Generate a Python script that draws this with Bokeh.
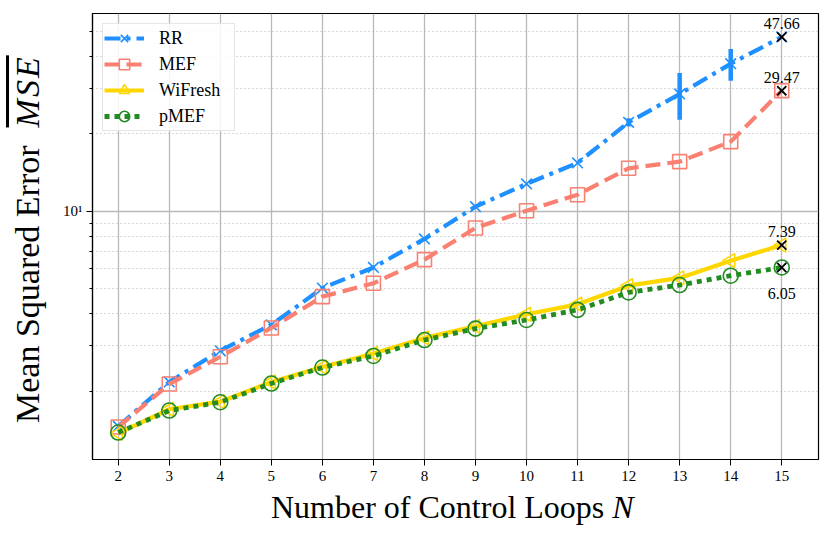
import math
from bokeh.plotting import figure
from bokeh.models import (Range1d, FixedTicker, CustomJSTickFormatter, Legend,
                          LegendItem, Div)
from bokeh.layouts import column, row
from bokeh.core.properties import value
from bokeh.embed import file_html
from bokeh.resources import INLINE

# ---------------- data ----------------
N = [2, 3, 4, 5, 6, 7, 8, 9, 10, 11, 12, 13, 14, 15]
RR = [1.46, 2.17, 2.87, 3.62, 5.03, 6.05, 7.81, 10.43, 12.79, 15.43, 22.2, 28.6, 37.5, 47.66]
RR_ERR = [0, 0, 0, 0, 0, 0, 0, 0, 0, 0, 0.8, 5.9, 5.3, 0]
MEF = [1.45, 2.13, 2.72, 3.52, 4.66, 5.25, 6.49, 8.62, 10.06, 11.61, 14.70, 15.61, 18.67, 29.47]
WIFRESH = [1.37, 1.70, 1.82, 2.17, 2.48, 2.80, 3.22, 3.57, 3.98, 4.35, 5.14, 5.51, 6.43, 7.39]
PMEF = [1.38, 1.68, 1.81, 2.14, 2.47, 2.74, 3.16, 3.50, 3.78, 4.14, 4.84, 5.17, 5.62, 6.05]
SERIES = ["RR", "MEF", "WiFresh", "pMEF"]
Y_MAJOR = [10]
Y_MINOR = [2, 3, 4, 5, 6, 7, 8, 9, 20, 30, 40, 50]
X_TITLE = "Number of Control Loops"
X_TITLE_VAR = "N"
Y_TITLE = "Mean Squared Error"
Y_TITLE_VAR = "MSE"

C_RR = "#1E90FF"
C_MEF = "#FA8072"
C_WF = "#FFD700"
C_PM = "#228B22"
SERIF = "Liberation Serif"

YDIV_W = 60
P_W, P_H = 831 - YDIV_W, 489

p = figure(width=P_W, height=P_H, output_backend="svg", toolbar_location=None,
           y_axis_type="log",
           x_range=Range1d(1.496, 15.72), y_range=Range1d(1.084, 58.8),
           min_border_left=32, min_border_right=13, min_border_top=13,
           min_border_bottom=30)
p.background_fill_color = "white"
p.border_fill_color = "white"
p.outline_line_color = "black"
p.outline_line_width = 1.2
p.outline_line_alpha = 1

# ticks & grids
xt = FixedTicker(ticks=N)
p.xaxis.ticker = xt
p.xgrid.ticker = xt
yt = FixedTicker(ticks=Y_MAJOR, minor_ticks=Y_MINOR)
p.yaxis.ticker = yt
p.ygrid.ticker = yt
p.yaxis.formatter = CustomJSTickFormatter(code="return '10\u00b9';")

p.xgrid.grid_line_color = "#b8b8b8"
p.xgrid.grid_line_width = 1.3
p.ygrid.grid_line_color = "#b8b8b8"
p.ygrid.grid_line_width = 1.3
p.ygrid.minor_grid_line_color = "#b0b0b0"
p.ygrid.minor_grid_line_width = 1.2
p.ygrid.minor_grid_line_dash = "1 3"

for ax in (p.xaxis, p.yaxis):
    ax.axis_line_color = "black"
    ax.axis_line_width = 1.2
    ax.major_tick_line_color = "black"
    ax.major_tick_out = 6
    ax.major_tick_in = 0
    ax.major_label_text_font = SERIF
    ax.major_label_text_font_size = "15px"
    ax.major_label_text_color = "black"
    ax.axis_label = None
p.xaxis.minor_tick_out = 0
p.xaxis.major_label_standoff = 5
p.yaxis.minor_tick_line_color = "black"
p.yaxis.minor_tick_out = 3
p.yaxis.minor_tick_in = 0
p.yaxis.major_label_standoff = 4

# ---------------- series ----------------
LW = 4.2
rr_lo = [v - e for v, e in zip(RR, RR_ERR)]
rr_hi = [v + e for v, e in zip(RR, RR_ERR)]

r_rr_l = p.line(N, RR, line_color=C_RR, line_width=LW, line_dash="16 6 4 6")
p.segment(x0=N, y0=rr_lo, x1=N, y1=rr_hi, line_color=C_RR, line_width=4.5, line_cap="butt")
r_rr_m = p.scatter(N, RR, marker="x", size=15, line_color=C_RR, line_width=1.6)
r_rr_b = p.scatter(x=[], y=[], marker="cross", line_color=C_RR, line_width=3.5)

r_mef_l = p.line(N, MEF, line_color=C_MEF, line_width=LW, line_dash="15 7")
r_mef_m = p.scatter(N, MEF, marker="square", size=14, line_color=C_MEF,
                    fill_color=None, line_width=1.6)
r_mef_b = p.scatter(x=[], y=[], marker="cross", line_color=C_MEF, line_width=3.5)

r_wf_l = p.line(N, WIFRESH, line_color=C_WF, line_width=LW)
r_wf_m = p.scatter(N, WIFRESH, marker="triangle", angle=math.pi / 2, size=14,
                   line_color=C_WF, fill_color=None, line_width=1.6)
r_wf_b = p.scatter(x=[], y=[], marker="cross", line_color=C_WF, line_width=3.5)

r_pm_l = p.line(N, PMEF, line_color=C_PM, line_width=LW + 0.6, line_dash="5 5")
r_pm_m = p.scatter(N, PMEF, marker="circle", size=15, line_color=C_PM,
                   fill_color=None, line_width=1.6)
r_pm_b = p.scatter(x=[], y=[], marker="cross", line_color=C_PM, line_width=3.5)

# final values marked
last_x = [N[-1]] * 4
last_y = [RR[-1], MEF[-1], WIFRESH[-1], PMEF[-1]]
p.scatter(last_x, last_y, marker="x", size=13, line_color="black", line_width=1.8)

up_y = last_y[:3]
p.text(x=[N[-1]] * 3, y=up_y, text=["%.2f" % v for v in up_y],
       text_font=value(SERIF), text_font_size="16px", text_color="black",
       text_align="center", text_baseline="bottom", y_offset=-8)
p.text(x=[N[-1]], y=[PMEF[-1]], text=["%.2f" % PMEF[-1]],
       text_font=value(SERIF), text_font_size="16px", text_color="black",
       text_align="center", text_baseline="top", y_offset=21)

# ---------------- legend ----------------
legend = Legend(items=[
    LegendItem(label=SERIES[0], renderers=[r_rr_l, r_rr_b, r_rr_m]),
    LegendItem(label=SERIES[1], renderers=[r_mef_l, r_mef_b, r_mef_m]),
    LegendItem(label=SERIES[2], renderers=[r_wf_l, r_wf_b, r_wf_m]),
    LegendItem(label=SERIES[3], renderers=[r_pm_l, r_pm_b, r_pm_m]),
], location="top_left")
legend.margin = 10
legend.padding = 1
legend.spacing = 0
legend.glyph_width = 40
legend.glyph_height = 26
legend.label_height = 26
legend.label_width = 74
legend.label_standoff = 15
legend.label_text_font = SERIF
legend.label_text_font_size = "18px"
legend.label_text_color = "black"
legend.border_line_color = "#cccccc"
legend.border_line_width = 1
legend.background_fill_alpha = 0.85
p.add_layout(legend)

# ---------------- axis titles (HTML text) ----------------
FONT_CSS = "font-family:'Liberation Serif',serif; color:black; white-space:nowrap;"
ytitle_html = (
    '<div style="' + FONT_CSS + ' font-size:34px; line-height:34px; width:max-content;'
    ' margin:423px 0 0 11px; transform:rotate(-90deg); transform-origin:left top;">'
    + Y_TITLE +
    '<span style="font-style:italic; text-decoration:overline; margin-left:18px;'
    ' letter-spacing:2px;">' + Y_TITLE_VAR + '</span></div>'
)
xtitle_html = (
    '<div style="' + FONT_CSS + ' font-size:32px; line-height:32px; width:max-content;'
    ' margin:2px 0 0 271px;">'
    + X_TITLE + ' <span style="font-style:italic;">' + X_TITLE_VAR + '</span></div>'
)
ydiv = Div(text=ytitle_html, width=YDIV_W, height=P_H, margin=0)
xdiv = Div(text=xtitle_html, width=831, height=537 - P_H, margin=0)

layout = column(row(ydiv, p, spacing=0), xdiv, spacing=0)

open("out.html", "w").write(file_html(layout, INLINE))
